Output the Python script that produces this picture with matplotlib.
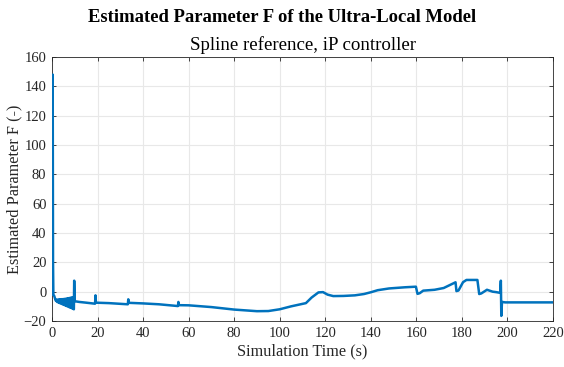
import matplotlib
matplotlib.use("Agg")
import matplotlib.pyplot as plt

# Estimated F over the run (s, -)
time_s = [
    0.0, 0.15, 0.3, 0.45, 0.6, 1.0, 1.6,
    # fast oscillation during start-up
    1.9, 2.2, 2.5, 2.8, 3.1, 3.4, 3.7, 4.0, 4.3, 4.6, 4.9, 5.2, 5.5, 5.8,
    6.1, 6.4, 6.7, 7.0, 7.3, 7.6, 7.9, 8.2, 8.5, 8.8, 9.1, 9.4,
    9.6, 9.75, 9.95, 12.0, 15.0, 18.9, 19.1, 19.3, 25.0,
    33.3, 33.5, 33.7, 40.0, 47.0, 55.3, 55.5, 55.7, 60.0, 70.0, 80.0,
    90.0, 95.0, 100.0, 105.0, 111.5, 114.0, 117.0, 119.0, 121.0, 123.5,
    128.0, 133.0, 137.0, 140.0, 143.0, 148.0, 155.0, 159.8, 160.5, 161.5,
    163.0, 168.0, 172.0, 177.2, 177.6, 178.5, 180.5, 182.0, 186.8, 187.6,
    188.5, 191.0, 193.5, 195.0, 196.8, 197.1, 197.3, 197.6, 199.0, 220.0,
]
param_f = [
    -2.0, 60.0, 148.0, 20.0, -2.0, -3.0, -6.0,
    -5.5, -7.0, -5.4, -7.4, -5.3, -7.8, -5.2, -8.2, -5.1, -8.6, -5.0, -9.0,
    -4.9, -9.4, -4.8, -9.8, -4.6, -10.2, -4.4, -10.6, -4.2, -11.0, -4.0,
    -11.4, -3.8, -11.8,
    -12.0, 7.5, -6.5, -7.0, -7.5, -8.2, -2.5, -7.5, -7.8,
    -8.6, -5.2, -7.6, -8.0, -8.6, -9.8, -7.0, -9.2, -9.3, -10.5, -12.2,
    -13.3, -13.2, -12.0, -10.0, -7.8, -4.0, -0.5, -0.3, -2.0, -3.0,
    -2.9, -2.5, -1.6, -0.4, 1.0, 2.2, 3.0, 3.4, -1.5, -1.0,
    0.7, 1.3, 2.5, 6.4, 0.4, 0.8, 6.5, 8.0, 8.0, -1.6,
    -1.2, 1.3, 0.0, -0.3, -0.8, 7.5, -16.5, -7.0, -7.3, -7.3,
]

x_ticks = list(range(0, 221, 20))
y_ticks = list(range(-20, 161, 20))

AX_COL = "#262626"
LINE_COL = "#0072BD"

plt.rcParams["font.family"] = ["Liberation Serif", "DejaVu Serif"]

fig = plt.figure(figsize=(5.64, 3.67), dpi=100, facecolor="white")
ax = fig.add_axes([0.0922, 0.1253, 0.8883, 0.7194])

ax.plot(time_s, param_f, color=LINE_COL, linewidth=1.8, zorder=3)

ax.set_xlim(0, 220)
ax.set_ylim(-20, 160)
ax.set_xticks(x_ticks)
ax.set_yticks(y_ticks)
ax.grid(True, color="#E8E8E8", linewidth=0.8, zorder=0)
ax.set_axisbelow(True)

for s in ax.spines.values():
    s.set_color(AX_COL)
    s.set_linewidth(0.6)
ax.tick_params(direction="in", length=3, width=0.6, colors=AX_COL,
               labelsize=10.5, top=True, right=True, pad=4)

ax.set_xlabel("Simulation Time (s)", fontsize=11.7, color=AX_COL, labelpad=3)
ax.set_ylabel("Estimated Parameter F (-)", fontsize=11.7, color=AX_COL, labelpad=1)

fig.text(0.5, 0.951, "Estimated Parameter F of the Ultra-Local Model",
         ha="center", va="center", fontsize=13.4, fontweight="bold", color="black")
ax.text(0.5, 1.045, "Spline reference, iP controller", transform=ax.transAxes,
        ha="center", va="center", fontsize=13.6, color="black")

fig.savefig("out.png", dpi=100)
